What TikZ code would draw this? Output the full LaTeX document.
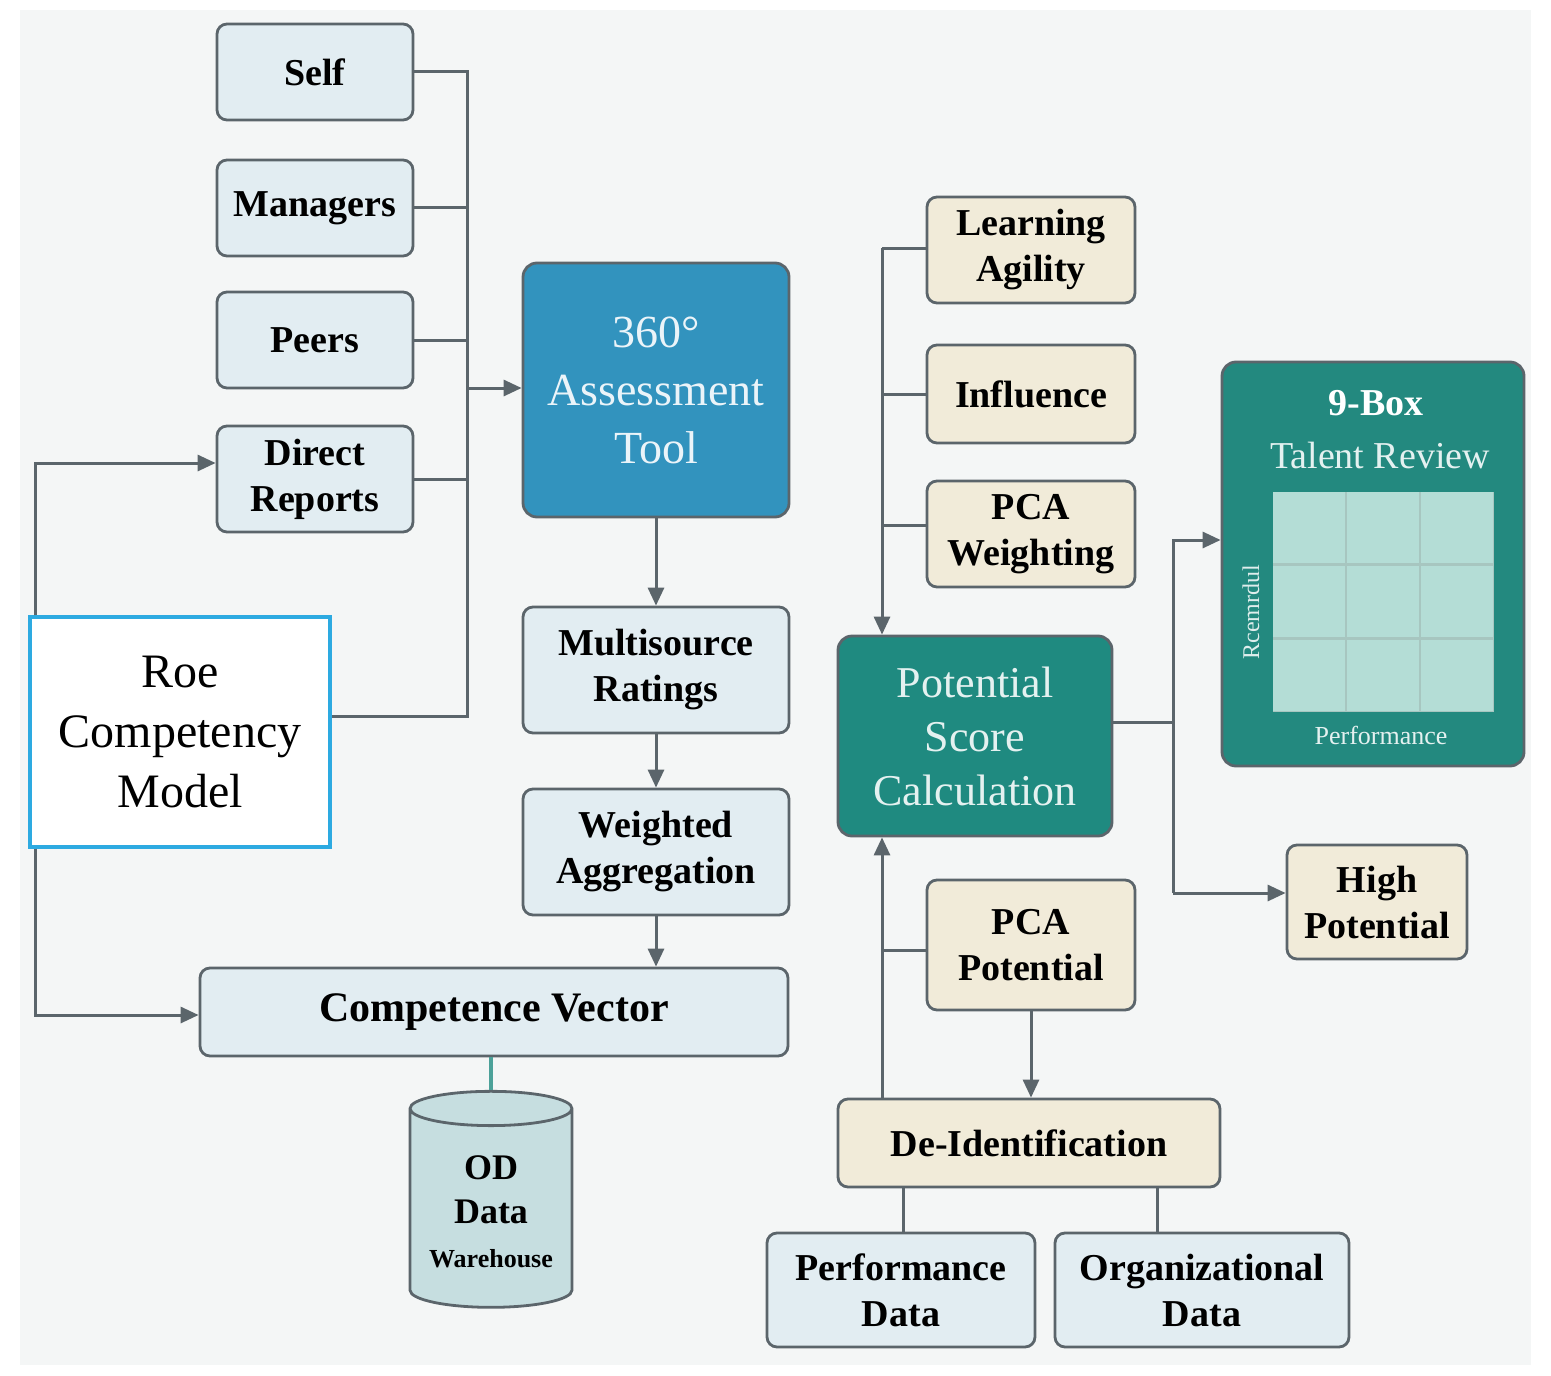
\documentclass[tikz,border=0pt]{standalone}
\usepackage{fontspec}
\setmainfont{Liberation Serif}
\usetikzlibrary{arrows.meta,shapes.geometric}
\definecolor{bfill}{HTML}{E2EDF2}
\definecolor{yfill}{HTML}{F1EBD9}
\definecolor{edge}{HTML}{5B656B}
\definecolor{tool}{HTML}{3293BE}
\definecolor{teal}{HTML}{1F8A80}
\definecolor{box9}{HTML}{23897F}
\definecolor{cell}{HTML}{B4DDD6}
\definecolor{cyl}{HTML}{C6DEE0}
\definecolor{roe}{HTML}{2DAAE1}
\definecolor{bg}{HTML}{F4F6F6}
\begin{document}
\begin{tikzpicture}[x=0.5pt,y=-0.5pt,
  box/.style={draw=edge,line width=1.4pt,rounded corners=5pt,align=center,inner sep=0pt,font=\fontsize{19}{23}\selectfont\bfseries},
  bl/.style={box,fill=bfill},
  yl/.style={box,fill=yfill},
  ln/.style={draw=edge,line width=1.5pt},
  ar/.style={ln,-{Triangle[length=9pt,width=8pt]}}]
\useasboundingbox (0,0) rectangle (1551,1375);
\fill[white] (0,0) rectangle (1551,1375);
\fill[bg] (20,10) rectangle (1531,1365);
% left column
\node[bl,minimum width=98pt,minimum height=48pt] (self) at (315,72) {Self};
\node[bl,minimum width=98pt,minimum height=48pt] (man) at (315,208) {Managers};
\node[bl,minimum width=98pt,minimum height=48pt] (peer) at (315,340) {Peers};
\node[bl,minimum width=98pt,minimum height=53pt] (dr) at (315,479) {Direct\\Reports};
\node[draw=roe,line width=1.6pt,fill=white,minimum width=150pt,minimum height=115pt,align=center,font=\fontsize{24}{30}\selectfont] (roe) at (180,732) {Roe\\Competency\\Model};
\node[draw=edge,line width=1.4pt,rounded corners=7pt,fill=tool,text=white!90!tool,minimum width=133pt,minimum height=127pt,align=center,font=\fontsize{23}{29}\selectfont] (tool) at (656,390) {360°\\Assessment\\Tool};
\node[bl,minimum width=133pt,minimum height=63pt] (ms) at (656,670) {Multisource\\Ratings};
\node[bl,minimum width=133pt,minimum height=63pt] (wa) at (656,852) {Weighted\\Aggregation};
\node[bl,minimum width=294pt,minimum height=44pt,font=\fontsize{21}{25}\selectfont\bfseries] (cv) at (494,1012) {Competence Vector};
\node[cylinder,shape border rotate=90,aspect=0.25,draw=edge,line width=1.4pt,fill=cyl,minimum width=81pt,minimum height=108pt,align=center,font=\fontsize{18}{22}\selectfont\bfseries] (od) at (491,1212) {OD\\Data\\{\fontsize{13}{15}\selectfont Warehouse}};
\coordinate (bus) at (467,388);
\draw[ln] (self.east) -- (467,72) -- (467,716) -- (roe.east|-0,716);
\draw[ln] (man.east) -- (467,208);
\draw[ln] (peer.east) -- (467,340);
\draw[ln] (dr.east) -- (467,479);
\draw[ar] (bus) -- (tool.west|-bus);
\draw[ar] (roe.north-|35,0) -- (35,463) -- (dr.west|-0,463);
\draw[ar] (roe.south-|35,0) -- (35,1015) -- (cv.west|-0,1015);
\draw[ar] (tool.south) -- (ms.north);
\draw[ar] (ms.south) -- (wa.north);
\draw[ar] (wa.south) -- (cv.north-|wa.south);
\draw[draw=teal!80!white,line width=2pt] (cv.south-|od.north) -- (od.north);
% right part
\node[yl,minimum width=104pt,minimum height=53pt] (la) at (1031,250) {Learning\\Agility};
\node[yl,minimum width=104pt,minimum height=49pt] (inf) at (1031,394) {Influence};
\node[yl,minimum width=104pt,minimum height=53pt] (pw) at (1031,534) {PCA\\Weighting};
\node[draw=edge,line width=1.4pt,rounded corners=7pt,fill=teal,text=white!88!teal,minimum width=137pt,minimum height=100pt,align=center,font=\fontsize{22}{27}\selectfont] (ps) at (975,736) {Potential\\Score\\Calculation};
\node[yl,minimum width=104pt,minimum height=65pt] (pp) at (1031,945) {PCA\\Potential};
\node[yl,minimum width=191pt,minimum height=44pt] (de) at (1029,1143) {De-Identification};
\node[bl,minimum width=134pt,minimum height=57pt] (pd) at (901,1290) {Performance\\Data};
\node[bl,minimum width=147pt,minimum height=57pt] (od2) at (1202,1290) {Organizational\\Data};
\node[yl,minimum width=90pt,minimum height=57pt] (hp) at (1377,902) {High\\Potential};
\node[draw=edge,line width=1.4pt,rounded corners=7pt,fill=box9,minimum width=151pt,minimum height=202pt] (nb) at (1373,564) {};
\node[text=white,font=\fontsize{19}{22}\selectfont\bfseries] (nbt) at (1376,403) {9-Box};
\node[text=white!88!box9,font=\fontsize{19}{22}\selectfont] (nbs) at (1380,455) {Talent Review};
\fill[cell!75!gray] (1273,492) rectangle (1494,712);
\foreach \i in {0,1,2} \foreach \j in {0,1,2}
  \fill[cell] (1273+\i*74,492+\j*74) rectangle ++(72,71);
\node[rotate=90,text=white!85!box9,font=\fontsize{12}{14}\selectfont] (yl) at (1251,612) {Rcemrdul};
\node[text=white!88!box9,font=\fontsize{13}{15}\selectfont] (xl) at (1381,735) {Performance};
\draw[ln] (la.west|-0,248) -- (882,248);
\draw[ar] (882,248) -- (ps.north-|882,0);
\draw[ln] (inf.west) -- (882,394);
\draw[ln] (pw.west|-0,525) -- (882,525);
\draw[ln] (ps.east|-0,722) -- (1173,722);
\draw[ar] (1173,893) -- (1173,540) -- (nb.west|-0,540);
\draw[ar] (1173,893) -- (hp.west|-0,893);
\draw[ar] (de.north-|882,0) -- (ps.south-|882,0);
\draw[ln] (pp.west|-0,950) -- (882,950);
\draw[ar] (pp.south) -- (de.north-|pp.south);
\draw[ln] (de.south-|903,0) -- (pd.north-|903,0);
\draw[ln] (de.south-|1157,0) -- (od2.north-|1157,0);
\end{tikzpicture}
\end{document}
